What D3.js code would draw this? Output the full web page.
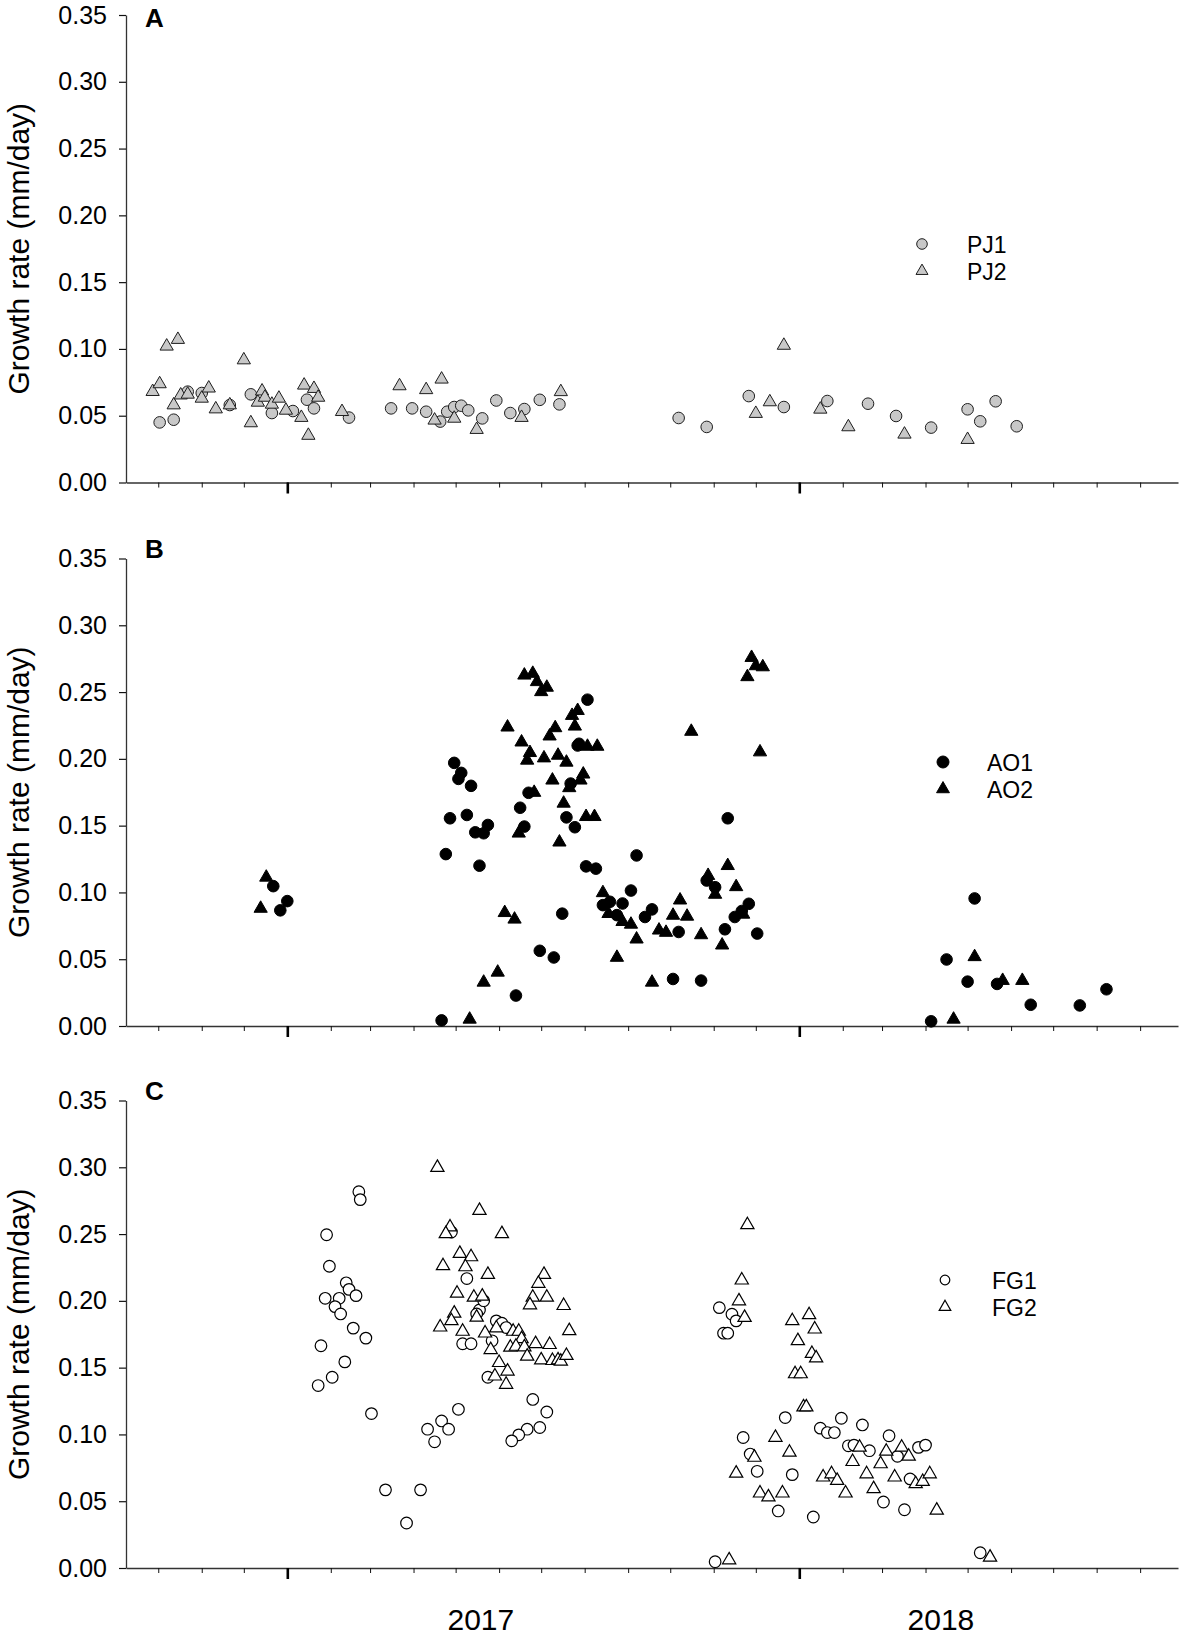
<!DOCTYPE html>
<html>
<head>
<meta charset="utf-8">
<script src="https://cdn.jsdelivr.net/npm/d3@7"></script>
<style>
	body { margin: 0; background: #fff; }
	svg { display: block; font-family: "Liberation Sans", Arial, sans-serif; }
</style>
</head>
<body>
<div id="chart"></div>
<script>
// day = days after 1 Jan 2017, rate = growth rate (mm/day)
var pj1Day  = [-91, -81, -71, -61, -41, -26, -11, 4, 14, 19, 44, 74, 89, 99, 109, 114, 119, 124, 129, 139, 149, 159, 169, 180, 194,
	279, 299, 329, 354, 385, 414, 434, 459, 485, 494, 505, 520];
var pj1Rate = [0.045, 0.047, 0.068, 0.067, 0.058, 0.066, 0.052, 0.0535, 0.062, 0.0555, 0.0486, 0.0555, 0.0555, 0.053, 0.0456, 0.053, 0.0565, 0.0575, 0.054, 0.048, 0.0614, 0.052, 0.055, 0.0619, 0.0585,
	0.0483, 0.0416, 0.0647, 0.0565, 0.061, 0.059, 0.0498, 0.0411, 0.0548, 0.0458, 0.0608, 0.0421];

var pj2Day  = [-96, -91, -86, -78, -81, -76, -71, -61, -56, -51, -41, -31, -26, -21, -18, -16, -11, -6, -1, 10, 12, 15, 19, 22, 39,
	80, 99, 105, 110, 119, 135, 167, 195, 334, 344, 354, 380, 400, 440, 485];
var pj2Rate = [0.068, 0.0738, 0.102, 0.107, 0.058, 0.0654, 0.066, 0.063, 0.0706, 0.055, 0.058, 0.0917, 0.0446, 0.06, 0.0684, 0.0637, 0.0585, 0.063, 0.054, 0.0486, 0.0728, 0.0352, 0.0703, 0.0637, 0.053,
	0.0723, 0.0694, 0.0466, 0.0773, 0.048, 0.0396, 0.0486, 0.0679, 0.0516, 0.0603, 0.1026, 0.0548, 0.0416, 0.0361, 0.0321];

var ao1Day  = [-10, 0, -5, 119, 124, 122, 131, 128, 116, 143, 134, 140, 113, 137, 110, 163, 180, 190, 196, 166, 169, 172,
	214, 208, 207, 202, 199, 205, 213, 220, 249, 245, 230, 225, 239, 235, 255, 260, 279, 275, 295, 314, 299, 305,
	312, 319, 324, 329, 335, 459, 470, 490, 485, 506, 530, 565, 584];
var ao1Rate = [0.1047, 0.0935, 0.0866, 0.197, 0.1895, 0.185, 0.1798, 0.158, 0.1555, 0.1505, 0.145, 0.1443, 0.1287, 0.12, 0.0042, 0.0228, 0.0563, 0.0513, 0.0841, 0.1634, 0.1493, 0.1746,
	0.2443, 0.2113, 0.21, 0.1815, 0.1562, 0.1488, 0.1195, 0.1178, 0.1277, 0.1014, 0.093, 0.0905, 0.0917, 0.083, 0.0816, 0.0873, 0.0704, 0.0352, 0.034, 0.1555, 0.1089, 0.1039,
	0.0724, 0.0816, 0.0861, 0.0915, 0.0692, 0.0035, 0.0498, 0.0955, 0.0332, 0.0315, 0.0159, 0.0154, 0.0275];

var ao2Day  = [-15, -19, 130, 140, 150, 155, 162, 157, 167, 173, 171, 169, 175, 178, 185, 181, 183, 187, 191, 193, 199, 189,
	176, 197, 211, 209, 201, 203, 207, 205, 214, 221, 213, 219, 194, 165, 225, 229, 239, 245, 249, 235,
	260, 265, 270, 275, 280, 285, 295, 288, 300, 305, 310, 314, 320, 325, 328, 331, 334, 339, 337,
	475, 490, 510, 524];
var ao2Rate = [0.1113, 0.088, 0.005, 0.0327, 0.0402, 0.0848, 0.0799, 0.2237, 0.2125, 0.2046, 0.1989, 0.2626, 0.2639, 0.2577, 0.2535, 0.2502, 0.2006, 0.217, 0.2232, 0.2026, 0.1974, 0.184,
	0.1748, 0.1667, 0.1885, 0.184, 0.1783, 0.2324, 0.2361, 0.2244, 0.2093, 0.2093, 0.1567, 0.1567, 0.1376, 0.1443, 0.0997, 0.0841, 0.0781, 0.0761, 0.065, 0.0513,
	0.0327, 0.0717, 0.07, 0.0828, 0.0942, 0.0821, 0.0682, 0.2205, 0.1126, 0.0985, 0.0605, 0.12, 0.1042, 0.0836, 0.2614, 0.2758, 0.2696, 0.2688, 0.2051,
	0.005, 0.0518, 0.034, 0.034];

var fg1Day  = [51, 52, 28, 30, 42, 44, 49, 27, 37, 34, 38, 47, 56, 24, 41, 32, 22, 60, 70, 95, 85, 100, 110, 115, 105, 122,
	128, 117, 137, 135, 140, 125, 131, 146, 149, 153, 156, 143, 175, 185, 180, 171, 165, 160,
	308, 317, 320, 311, 314, 355, 325, 330, 335, 360, 350, 375, 305, 380, 385, 390, 395, 410, 400, 404,
	415, 429, 435, 450, 455, 444, 425, 440, 494];
var fg1Rate = [0.2817, 0.2758, 0.2495, 0.2259, 0.2135, 0.2086, 0.2039, 0.2019, 0.2019, 0.1957, 0.1902, 0.1796, 0.1721, 0.1664, 0.1543, 0.1428, 0.1366, 0.1156, 0.0585, 0.0585, 0.0337, 0.1039, 0.1101, 0.1039, 0.0945, 0.1188,
	0.2167, 0.2515, 0.1932, 0.1902, 0.2001, 0.1679, 0.1679, 0.1701, 0.185, 0.1833, 0.18, 0.1428, 0.1262, 0.1168, 0.1052, 0.1039, 0.0997, 0.0952,
	0.1949, 0.19, 0.185, 0.1758, 0.1758, 0.1126, 0.0977, 0.0853, 0.0724, 0.0699, 0.0427, 0.0382, 0.0047, 0.1047, 0.1014, 0.1014, 0.1121, 0.1071, 0.0915, 0.092,
	0.0878, 0.099, 0.0836, 0.0903, 0.092, 0.0667, 0.0494, 0.0436, 0.0114];

var fg2Day  = [107, 137, 116, 113, 153, 123, 131, 111, 127, 143, 183, 179, 121, 133, 139, 175, 185, 173, 197, 119, 117, 135, 109,
	125, 141, 149, 201, 161, 165, 167, 159, 163, 169, 177, 187, 145, 171, 181, 189, 193, 195, 199, 151, 157, 148, 156,
	328, 324, 322, 326, 360, 372, 376, 364, 374, 377, 362, 366, 368, 370, 348, 333, 358, 320, 337, 343, 353, 315,
	382, 388, 392, 398, 403, 408, 413, 418, 423, 427, 433, 438, 443, 448, 453, 458, 463, 501];
var fg2Rate = [0.2998, 0.2676, 0.2552, 0.2502, 0.2502, 0.2354, 0.2329, 0.2262, 0.2254, 0.2197, 0.2197, 0.213, 0.2056, 0.2026, 0.2034, 0.2026, 0.2026, 0.1969, 0.1964, 0.1907, 0.185, 0.1877, 0.1803,
	0.1771, 0.1758, 0.1796, 0.1776, 0.1771, 0.1771, 0.1716, 0.1652, 0.1659, 0.1654, 0.1679, 0.1672, 0.1634, 0.1585, 0.1557, 0.1552, 0.1557, 0.1547, 0.159, 0.1537, 0.1473, 0.1436, 0.1374,
	0.2569, 0.2155, 0.1999, 0.1875, 0.185, 0.1895, 0.1788, 0.1701, 0.1605, 0.1572, 0.1453, 0.1453, 0.1205, 0.1205, 0.0977, 0.0828, 0.0866, 0.0709, 0.056, 0.0531, 0.056, 0.006,
	0.068, 0.0704, 0.0655, 0.056, 0.0796, 0.0903, 0.0704, 0.0593, 0.0779, 0.0873, 0.068, 0.0903, 0.0836, 0.063, 0.0647, 0.0704, 0.0432, 0.008];

var yTicks = [0, 0.05, 0.10, 0.15, 0.20, 0.25, 0.30, 0.35];
var yearLabels = ["2017", "2018"];
var yearLabelDays = [138, 466];   // days after 1 Jan 2017 where the year text is centred
var panelLetters = ["A", "B", "C"];
var seriesNames = [["PJ1", "PJ2"], ["AO1", "AO2"], ["FG1", "FG2"]];

(function() {
	var W = 1181,
		H = 1637,
		left = 126,
		right = 1178,
		panelH = 467.5,
		bottoms = [482.5, 1026, 1568],
		base = Date.UTC(2017, 0, 1),
		i;

	function dayToDate(d) {
		return new Date(base + d * 864e5);
	}

	function zip(days, rates) {
		var out = [];
		for (i = 0; i < days.length; i++)
			out.push({ date: dayToDate(days[i]), v: rates[i] });
		return out;
	}

	var panels = [
		{
			circ: zip(pj1Day, pj1Rate), tri: zip(pj2Day, pj2Rate),
			fill: "#c8c8c8", stroke: "#1e1e1e", sw: 1,
			letterY: 27, legX: 922, legY: 244, textX: 967, legR: 5.3, legTri: 62
		},
		{
			circ: zip(ao1Day, ao1Rate), tri: zip(ao2Day, ao2Rate),
			fill: "#000", stroke: "#000", sw: 1,
			letterY: 558, legX: 943, legY: 762, textX: 987, legR: 6, legTri: 72
		},
		{
			circ: zip(fg1Day, fg1Rate), tri: zip(fg2Day, fg2Rate),
			fill: "#fff", stroke: "#000", sw: 1.2,
			letterY: 1100, legX: 945, legY: 1280, textX: 992, legR: 4.8, legTri: 58
		}
	];

	var x = d3.scaleUtc()
		.domain([new Date(Date.UTC(2016, 8, 8)), new Date(Date.UTC(2018, 8, 28))])
		.range([left, right]);

	var svg = d3.select("#chart").append("svg")
		.attr("width", W)
		.attr("height", H);

	svg.append("rect").attr("width", W).attr("height", H).attr("fill", "#fff");

	var triPath = d3.symbol().type(d3.symbolTriangle).size(76)();

	panels.forEach(function(p, k) {
		var bottom = bottoms[k],
			top = bottom - panelH,
			y = d3.scaleLinear().domain([0, 0.35]).range([bottom, top]),
			g = svg.append("g");

		// y axis
		var ya = g.append("g")
			.attr("transform", "translate(" + left + ",0)")
			.call(d3.axisLeft(y).tickValues(yTicks).tickFormat(d3.format(".2f")).tickSize(7).tickPadding(12).tickSizeOuter(0));
		ya.select(".domain").attr("stroke", "#333").attr("stroke-width", 1.3);
		ya.selectAll(".tick line").attr("stroke", "#111").attr("stroke-width", 1.2);
		ya.selectAll(".tick text")
			.attr("fill", "#000")
			.style("font-size", "25px")
			.style("font-family", "'Liberation Sans', Arial, sans-serif");

		// x axis, month ticks and heavier year ticks
		var xa = g.append("g")
			.attr("transform", "translate(0," + bottom + ")")
			.call(d3.axisBottom(x).ticks(d3.utcMonth.every(1)).tickFormat("").tickSize(5).tickSizeOuter(0));
		xa.select(".domain").attr("stroke", "#333").attr("stroke-width", 1.3);
		xa.selectAll(".tick line").attr("stroke", "#111").attr("stroke-width", 1);

		var xm = g.append("g")
			.attr("transform", "translate(0," + bottom + ")")
			.call(d3.axisBottom(x).ticks(d3.utcYear.every(1)).tickFormat("").tickSize(11).tickSizeOuter(0));
		xm.select(".domain").remove();
		xm.selectAll(".tick line").attr("stroke", "#000").attr("stroke-width", 2.6);

		// axis title
		g.append("text")
			.attr("transform", "translate(29," + (top + bottom) / 2 + ") rotate(-90)")
			.attr("text-anchor", "middle")
			.style("font-size", "30px")
			.text("Growth rate (mm/day)");

		// panel letter
		g.append("text")
			.attr("x", 145)
			.attr("y", p.letterY)
			.style("font-size", "26px")
			.style("font-weight", "bold")
			.text(panelLetters[k]);

		// points
		g.append("g").selectAll("circle")
			.data(p.circ)
			.join("circle")
			.attr("cx", function(d) { return x(d.date); })
			.attr("cy", function(d) { return y(d.v); })
			.attr("r", 5.8)
			.attr("fill", p.fill)
			.attr("stroke", p.stroke)
			.attr("stroke-width", p.sw);

		g.append("g").selectAll("path")
			.data(p.tri)
			.join("path")
			.attr("d", triPath)
			.attr("transform", function(d) { return "translate(" + x(d.date) + "," + y(d.v) + ")"; })
			.attr("fill", p.fill)
			.attr("stroke", p.stroke)
			.attr("stroke-width", p.sw);

		// legend
		var lg = g.append("g");
		lg.append("circle")
			.attr("cx", p.legX).attr("cy", p.legY).attr("r", p.legR)
			.attr("fill", p.fill).attr("stroke", p.stroke).attr("stroke-width", p.sw);
		lg.append("path")
			.attr("d", d3.symbol().type(d3.symbolTriangle).size(p.legTri)())
			.attr("transform", "translate(" + p.legX + "," + (p.legY + 27) + ")")
			.attr("fill", p.fill).attr("stroke", p.stroke).attr("stroke-width", p.sw);
		lg.selectAll("text")
			.data(seriesNames[k])
			.join("text")
			.attr("x", p.textX)
			.attr("y", function(d, j) { return p.legY + 8.5 + j * 27; })
			.style("font-size", "23px")
			.text(function(d) { return d; });
	});

	// year labels under the last panel
	svg.append("g").selectAll("text")
		.data(yearLabels)
		.join("text")
		.attr("x", function(d, j) { return x(dayToDate(yearLabelDays[j])); })
		.attr("y", 1630)
		.attr("text-anchor", "middle")
		.style("font-size", "30px")
		.text(function(d) { return d; });
})();
</script>
</body>
</html>
